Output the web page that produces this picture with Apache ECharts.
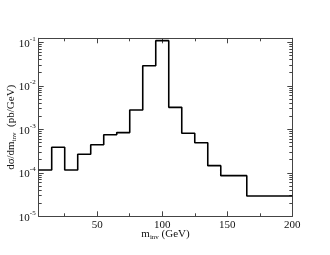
<!DOCTYPE html>
<html>
<head>
<meta charset="utf-8">
<script src="https://cdn.jsdelivr.net/npm/echarts@6/dist/echarts.min.js"></script>
<style>html,body{margin:0;padding:0;background:#fff}#c{width:330px;height:255px}</style>
</head>
<body>
<div id="c"></div>
<script>
// Bin edges (GeV) and dσ/dm_inv values (pb/GeV)
const binEdges = [5, 15, 25, 35, 45, 55, 65, 75, 85, 95, 105, 115, 125, 135, 145, 165, 200];
const binValues = [1.16e-4, 3.86e-4, 1.16e-4, 2.66e-4, 4.43e-4, 7.5e-4, 8.4e-4, 2.78e-3, 2.9e-2, 1.09e-1, 3.2e-3, 8.1e-4, 4.9e-4, 1.46e-4, 8.6e-5, 2.93e-5];
const xMajorTicks = [50, 100, 150, 200];
const xMinorTicks = [25, 75, 125, 175];
const yMajorTicks = [1e-5, 1e-4, 1e-3, 1e-2, 1e-1];
const yMinorMults = [2, 3, 4, 5, 6, 7, 8, 9];

const X_MIN = 5, X_MAX = 200, Y_MIN = 0.99999e-5, Y_MAX = 0.1236;
const yMinorTicks = [];
[1e-5, 1e-4, 1e-3, 1e-2].forEach(d => yMinorMults.forEach(m => yMinorTicks.push(+(d * m).toPrecision(3))));

const stepData = binValues.map((v, i) => [binEdges[i], v]);
stepData.push([binEdges[binEdges.length - 1], binValues[binValues.length - 1]]);

const FONT = 'Liberation Serif';
const frame = '#444';

function xAx(pos, ticks, len, showLine, showLabel, extra) {
  return Object.assign({
    type: 'value', position: pos, min: X_MIN, max: X_MAX,
    splitLine: {show: false},
    axisLine: {show: showLine, lineStyle: {color: frame, width: 1}},
    axisTick: {show: true, inside: true, length: len, customValues: ticks, lineStyle: {color: frame}},
    axisLabel: showLabel ? {show: true, customValues: ticks, margin: 3, fontFamily: FONT, fontSize: 11, color: '#111'} : {show: false}
  }, extra || {});
}
function yAx(pos, ticks, len, showLine, showLabel, extra) {
  return Object.assign({
    type: 'log', logBase: 10, position: pos, min: Y_MIN, max: Y_MAX,
    splitLine: {show: false},
    axisLine: {show: showLine, lineStyle: {color: frame, width: 1}},
    axisTick: {show: true, inside: true, length: len, customValues: ticks, lineStyle: {color: frame}},
    axisLabel: showLabel ? {
      show: true, customValues: ticks, margin: 3, color: '#111',
      formatter: v => '{b|10}{s|' + Math.round(Math.log10(v)) + '}',
      rich: {
        b: {fontFamily: FONT, fontSize: 11, verticalAlign: 'bottom', lineHeight: 14, color: '#111'},
        s: {fontFamily: FONT, fontSize: 7, verticalAlign: 'top', lineHeight: 8, color: '#111'}
      }
    } : {show: false}
  }, extra || {});
}

const chart = echarts.init(document.getElementById('c'), null, {renderer: 'canvas'});
chart.setOption({
  animation: false,
  backgroundColor: '#fff',
  grid: {left: 38.7, right: 37.7, top: 38.3, bottom: 38.7, containLabel: false, outerBoundsMode: 'none'},
  xAxis: [
    xAx('bottom', xMajorTicks, 5, true, true, {
      name: 'm{s|inv} (GeV)', nameLocation: 'middle', nameGap: 11, nameMoveOverlap: false,
      nameTextStyle: {fontFamily: FONT, fontSize: 11, color: '#111',
        rich: {s: {fontFamily: FONT, fontSize: 7, verticalAlign: 'bottom', padding: [6, 0, 0, 0], color: '#111'}}}
    }),
    xAx('bottom', xMinorTicks, 3, false, false),
    xAx('top', xMajorTicks, 5, true, false),
    xAx('top', xMinorTicks, 3, false, false)
  ],
  yAxis: [
    yAx('left', yMajorTicks, 5, true, true, {
      name: 'dσ/dm{s|inv}  (pb/GeV)', nameLocation: 'middle', nameGap: 21, nameRotate: 90, nameMoveOverlap: false,
      nameTextStyle: {fontFamily: FONT, fontSize: 11, color: '#111',
        rich: {s: {fontFamily: FONT, fontSize: 7, verticalAlign: 'bottom', padding: [6, 0, 0, 0], color: '#111'}}}
    }),
    yAx('left', yMinorTicks, 3, false, false),
    yAx('right', yMajorTicks, 5, true, false),
    yAx('right', yMinorTicks, 3, false, false)
  ],
  series: [{
    type: 'line', xAxisIndex: 0, yAxisIndex: 0,
    step: 'end', data: stepData, showSymbol: false, symbol: 'none',
    lineStyle: {color: '#000', width: 1.6}, clip: true
  }]
});
</script>
</body>
</html>
